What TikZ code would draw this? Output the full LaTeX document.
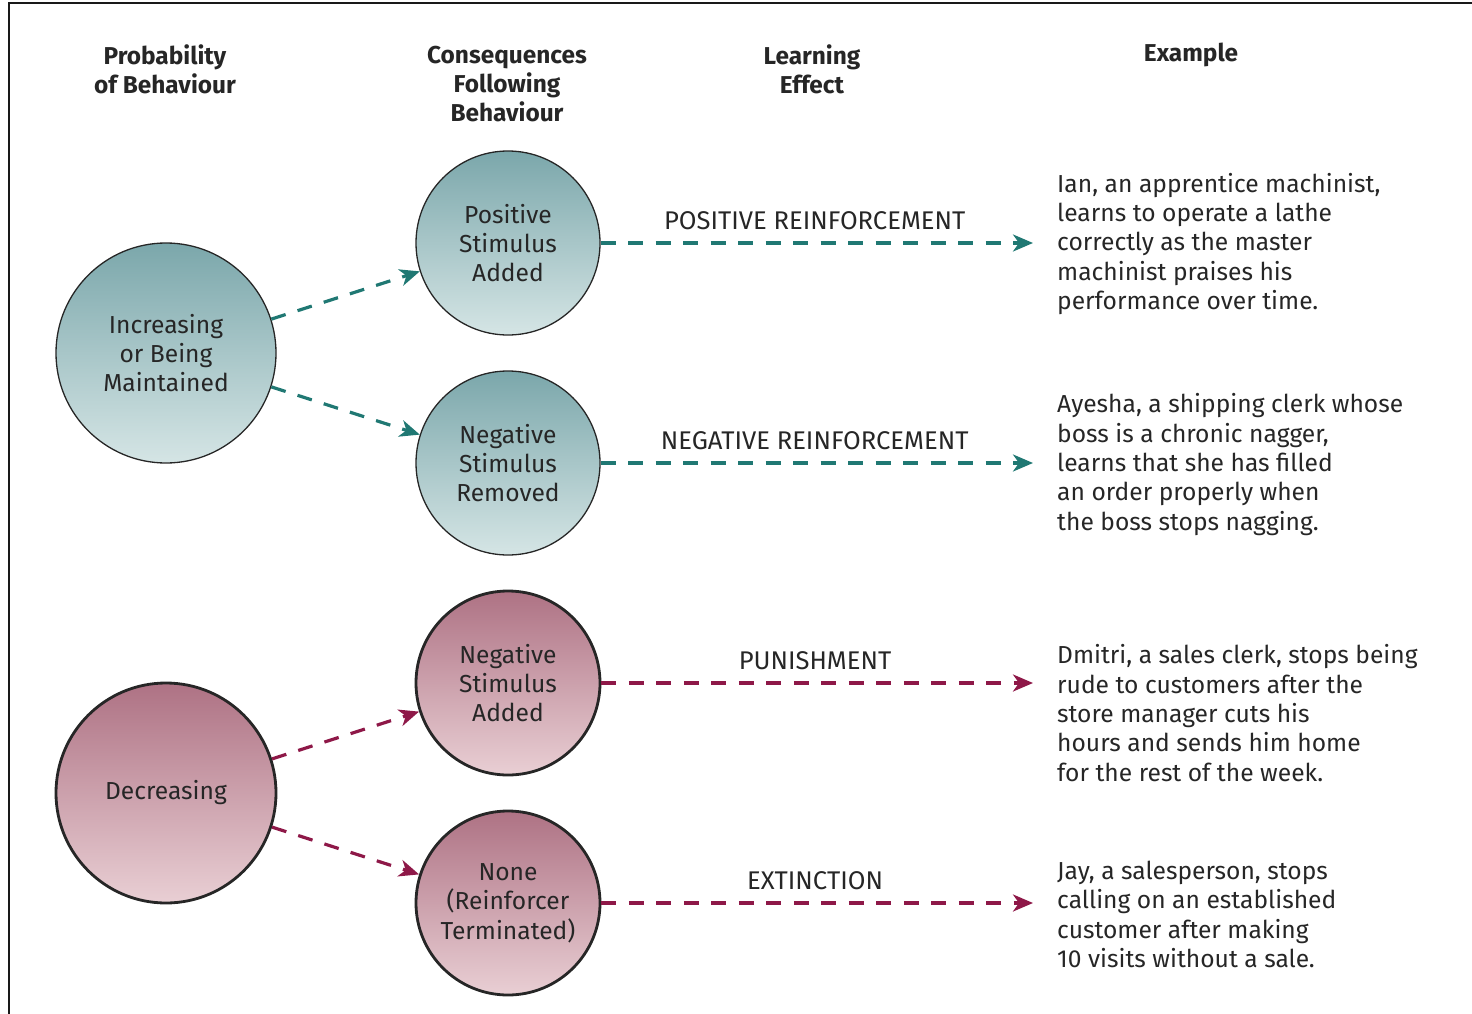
\documentclass[tikz,border=0pt]{standalone}
\usepackage{fontspec}
\setmainfont{Fira Sans}
\usetikzlibrary{arrows.meta}

\definecolor{tealtop}{HTML}{7BA7AB}
\definecolor{tealbot}{HTML}{D5E5E5}
\definecolor{tealline}{HTML}{207873}
\definecolor{pinktop}{HTML}{AE7284}
\definecolor{pinkbot}{HTML}{E9CFD4}
\definecolor{pinkline}{HTML}{8E1848}

\tikzset{
  txt/.style={font=\fontsize{24.6}{29.3}\selectfont, text=black!85, align=center, inner sep=0pt},
  head/.style={txt, font=\fontsize{24.4}{29.3}\selectfont\bfseries},
  effect/.style={txt, font=\fontsize{25.6}{29.3}\selectfont},
  bigcirc/.style={circle, draw=black!85, minimum size=220pt, txt},
  smallcirc/.style={circle, draw=black!85, minimum size=184pt, txt},
  tealfill/.style={top color=tealtop, bottom color=tealbot, line width=1.3pt},
  pinkfill/.style={top color=pinktop, bottom color=pinkbot, line width=2.8pt},
  darrow/.style={dashed, dash pattern=on 15pt off 12.5pt, line width=3.2pt,
    -{Stealth[length=20pt, width=17pt, inset=6pt]}},
  example/.style={txt, align=left, anchor=west},
}

\begin{document}
\begin{tikzpicture}[x=1pt, y=-1pt]
    \useasboundingbox (0,0) rectangle (1472,1014);
    % frame
    \draw[line width=2pt, black!90] (9,1014) -- (9,3) -- (1472,3);

    % column headings
    \node[head] (hprob) at (165,69.5) {Probability\\of Behaviour};
    \node[head] (hcons) at (507,84) {Consequences\\Following\\Behaviour};
    \node[head] (hlearn) at (812,69.5) {Learning\\Effect};
    \node[head] (hex) at (1191,55) {Example};

    % increasing branch
    \node[bigcirc, tealfill] (inc) at (166,353) {Increasing\\or Being\\Maintained};
    \node[smallcirc, tealfill] (posadd) at (508,243) {Positive\\Stimulus\\Added};
    \node[smallcirc, tealfill] (negrem) at (508,463) {Negative\\Stimulus\\Removed};
    \draw[darrow, tealline] (inc) -- (posadd);
    \draw[darrow, tealline] (inc) -- (negrem);

    % decreasing branch
    \node[bigcirc, pinkfill] (dec) at (166,793) {Decreasing};
    \node[smallcirc, pinkfill] (negadd) at (508,683) {Negative\\Stimulus\\Added};
    \node[smallcirc, pinkfill] (none) at (508,903) {None\\(Reinforcer\\Terminated)};
    \draw[darrow, pinkline] (dec) -- (negadd);
    \draw[darrow, pinkline] (dec) -- (none);

    % learning effects
    \coordinate (epos) at (1033,243);
    \coordinate (eneg) at (1033,463);
    \coordinate (epun) at (1033,683);
    \coordinate (eext) at (1033,903);
    \draw[darrow, tealline] (posadd) -- (epos)
        node[effect, pos=0.495, above=12pt] (lpos) {POSITIVE REINFORCEMENT};
    \draw[darrow, tealline] (negrem) -- (eneg)
        node[effect, pos=0.495, above=12pt] (lneg) {NEGATIVE REINFORCEMENT};
    \draw[darrow, pinkline] (negadd) -- (epun)
        node[effect, pos=0.495, above=12pt] (lpun) {PUNISHMENT};
    \draw[darrow, pinkline] (none) -- (eext)
        node[effect, pos=0.495, above=12pt] (lext) {EXTINCTION};

    % examples
    \node[example] (xian) at (1057,244) {Ian, an apprentice machinist,\\learns to operate a lathe\\correctly as the master\\machinist praises his\\performance over time.};
    \node[example] (xayesha) at (1057,464.5) {Ayesha, a shipping clerk whose\\boss is a chronic nagger,\\learns that she has filled\\an order properly when\\the boss stops nagging.};
    \node[example] (xdmitri) at (1057,713) {Dmitri, a sales clerk, stops being\\rude to customers after the\\store manager cuts his\\hours and sends him home\\for the rest of the week.};
    \node[example] (xjay) at (1057,914.5) {Jay, a salesperson, stops\\calling on an established\\customer after making\\10 visits without a sale.};
\end{tikzpicture}
\end{document}
